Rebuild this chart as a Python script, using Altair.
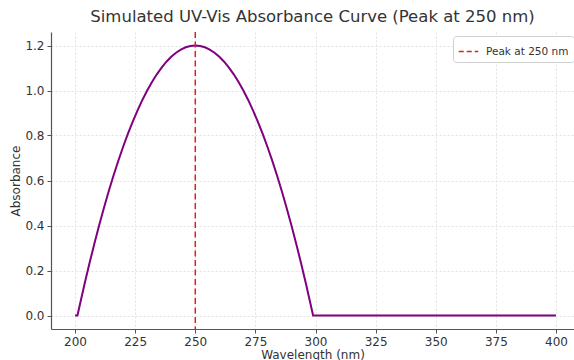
import altair as alt
import pandas as pd

wavelength = [200, 201, 202, 204, 206, 208, 210, 212, 214, 216, 218, 220, 222, 224,
              226, 228, 230, 232, 234, 236, 238, 240, 242, 244, 246, 248, 250,
              252, 254, 256, 258, 260, 262, 264, 266, 268, 270, 272, 274, 276,
              278, 280, 282, 284, 286, 288, 290, 292, 294, 296, 298, 299, 300, 400]
absorbance = [0.0, 0.0, 0.048, 0.142, 0.232, 0.318, 0.400, 0.478, 0.552, 0.622,
              0.688, 0.750, 0.808, 0.862, 0.912, 0.958, 1.000, 1.038, 1.072, 1.102,
              1.128, 1.150, 1.168, 1.182, 1.192, 1.198, 1.200,
              1.198, 1.192, 1.182, 1.168, 1.150, 1.128, 1.102, 1.072, 1.038, 1.000,
              0.958, 0.912, 0.862, 0.808, 0.750, 0.688, 0.622, 0.552, 0.478, 0.400,
              0.318, 0.232, 0.142, 0.048, 0.0, 0.0, 0.0]
peak_wavelength = [250]
peak_label = ["Peak at 250 nm"]

x_ticks = [200, 225, 250, 275, 300, 325, 350, 375, 400]
y_ticks = [0.0, 0.2, 0.4, 0.6, 0.8, 1.0, 1.2]

curve = pd.DataFrame({"wavelength": wavelength, "absorbance": absorbance})
peak = pd.DataFrame({"wavelength": peak_wavelength, "label": peak_label})

FONT = "DejaVu Sans"

x_scale = alt.Scale(domain=[190, 407.5], nice=False, zero=False)
y_scale = alt.Scale(domain=[-0.06, 1.26], nice=False, zero=False)

line = alt.Chart(curve).mark_line(color="#800080", strokeWidth=2).encode(
    x=alt.X("wavelength:Q", scale=x_scale,
            axis=alt.Axis(title="Wavelength (nm)", values=x_ticks, format="d")),
    y=alt.Y("absorbance:Q", scale=y_scale,
            axis=alt.Axis(title="Absorbance", values=y_ticks, format=".1f")),
)

rule = alt.Chart(peak).mark_rule(strokeDash=[6, 3.5], strokeWidth=1.5).encode(
    x=alt.X("wavelength:Q", scale=x_scale),
    color=alt.Color("label:N",
                    scale=alt.Scale(domain=peak_label, range=["#e0201b"]),
                    legend=alt.Legend(title=None, orient="none", legendX=402, legendY=4,
                                      symbolType="stroke", symbolStrokeWidth=1.5,
                                      symbolDash=[5, 3], symbolSize=380,
                                      labelFontSize=10.5, labelFont=FONT, labelColor="#333",
                                      labelOffset=7,
                                      strokeColor="#d0d0d0", fillColor="white",
                                      cornerRadius=3, padding=5)),
)

chart = (
    alt.layer(line, rule)
    .properties(
        width=523, height=297,
        title=alt.Title("Simulated UV-Vis Absorbance Curve (Peak at 250 nm)",
                        fontSize=16.5, font=FONT, fontWeight="normal", color="#333",
                        anchor="middle", offset=6),
        autosize=alt.AutoSizeParams(type="none"),
        padding={"left": 51, "top": 32, "right": 0, "bottom": 31},
    )
    .configure_view(stroke=None)
    .configure_axis(
        labelFont=FONT, labelFontSize=12, labelColor="#333",
        titleFont=FONT, titleFontSize=12, titleColor="#333", titleFontWeight="normal",
        domainColor="#555", domainWidth=1.2, tickColor="#555", tickSize=4,
        grid=True, gridColor="#dcdcdc", gridDash=[2, 2], gridWidth=0.8,
        labelPadding=3,
    )
    .configure_axisX(titlePadding=2)
    .configure_axisY(titlePadding=2)
)

chart.save("out.html", embed_options={"renderer": "svg", "actions": False})
